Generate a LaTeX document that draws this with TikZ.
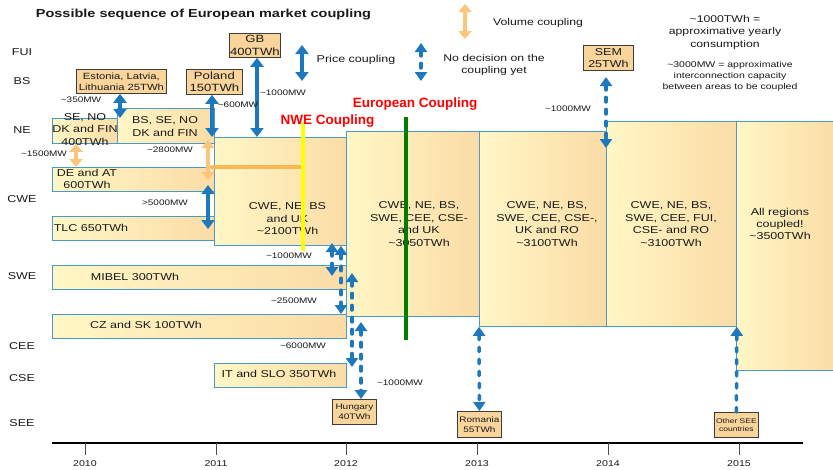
\documentclass[tikz,border=0pt]{standalone}
\usepackage{fontspec}
\setmainfont[FakeStretch=1.25]{Liberation Sans}
\newfontfamily\plainsans{Liberation Sans}
\usetikzlibrary{arrows.meta,calc}

\definecolor{regblue}{RGB}{78,152,200}
\definecolor{palel}{RGB}{255,247,198}
\definecolor{paler}{RGB}{251,220,166}
\definecolor{cblue}{RGB}{30,120,190}
\definecolor{volor}{RGB}{252,198,122}
\definecolor{tanfill}{RGB}{249,213,155}
\definecolor{tanline}{RGB}{60,60,60}
\definecolor{linkor}{RGB}{248,184,84}
\definecolor{nweyel}{RGB}{255,255,0}
\definecolor{eugreen}{RGB}{0,125,0}
\definecolor{ink}{RGB}{25,25,25}

\begin{document}
\begin{tikzpicture}[x=1pt,y=-1pt,
  every node/.style={text=ink},
  region/.style={draw=regblue, line width=0.8pt, left color=palel, right color=paler,
                 anchor=north west, inner sep=0pt},
  regtext/.style={font=\fontsize{10}{12.5}\selectfont, align=center, inner sep=0pt},
  tanbox/.style={draw=tanline, fill=tanfill, line width=0.8pt, inner sep=0pt,
                 align=center, anchor=north west},
  rowlab/.style={font=\fontsize{10}{12}\selectfont, inner sep=0pt},
  mwlab/.style={font=\fontsize{8}{10}\selectfont, inner sep=0pt},
  yearlab/.style={font=\fontsize{8.5}{10}\selectfont, inner sep=0pt},
  redlab/.style={font=\plainsans\bfseries\fontsize{13.5}{16}\selectfont, text=red, inner sep=0pt},
  price/.style={cblue, line width=4.5pt,
                {Triangle[width=13pt,length=9pt]}-{Triangle[width=13pt,length=9pt]}},
  undecided/.style={cblue, line width=3.5pt, dash pattern=on 4.5pt off 7.5pt, line cap=round,
                {Triangle[width=12pt,length=9pt]}-{Triangle[width=12pt,length=9pt]}},
  undecidedup/.style={cblue, line width=3.5pt, dash pattern=on 4.5pt off 7.5pt, line cap=round,
                -{Triangle[width=12pt,length=9pt]}},
  volume/.style={volor, line width=4.5pt,
                {Triangle[width=13pt,length=8pt]}-{Triangle[width=13pt,length=8pt]}}
]
\useasboundingbox (0,0) rectangle (833,469);

% ---------- title ----------
\node[font=\bfseries\fontsize{11.6}{14}\selectfont, inner sep=0pt] (title) at (203.5,15)
  {Possible sequence of European market coupling};

% ---------- row labels ----------
\node[rowlab] (rFUI) at (22,52)  {FUI};
\node[rowlab] (rBS)  at (22,81)  {BS};
\node[rowlab] (rNE)  at (22,130) {NE};
\node[rowlab] (rCWE) at (22,199) {CWE};
\node[rowlab] (rSWE) at (22,276) {SWE};
\node[rowlab] (rCEE) at (22,346) {CEE};
\node[rowlab] (rCSE) at (22,378) {CSE};
\node[rowlab] (rSEE) at (22,423) {SEE};

% ---------- regional markets ----------
\node[region, minimum width=65pt,  minimum height=25pt]  (senofin) at (52,118)  {};
\node[region, minimum width=97pt,  minimum height=35pt]  (bsseno)  at (117,108) {};
\node[region, minimum width=162pt, minimum height=24pt]  (deat)    at (52,167)  {};
\node[region, minimum width=162pt, minimum height=24pt]  (tlc)     at (52,216)  {};
\node[region, minimum width=294pt, minimum height=24pt]  (mibel)   at (52,265)  {};
\node[region, minimum width=294pt, minimum height=24pt]  (czsk)    at (52,314)  {};
\node[region, minimum width=132pt, minimum height=24pt]  (itslo)   at (214,363) {};
\node[region, minimum width=132pt, minimum height=108pt] (nwebox)  at (214,137) {};
\node[region, minimum width=133pt, minimum height=185pt] (eua)     at (346,131) {};
\node[region, minimum width=127pt, minimum height=195pt] (eub)     at (479,131) {};
\node[region, minimum width=130pt, minimum height=205pt] (euc)     at (606,121) {};
\node[region, minimum width=100pt, minimum height=249pt] (eud)     at (736,121) {};

\node[regtext] (senofin-t) at (85,129.5)  {SE, NO\\DK and FIN\\400TWh};
\node[regtext] (bsseno-t)  at (165,126.5) {BS, SE, NO\\DK and FIN};
\node[regtext] (deat-t)    at (87,179)    {DE and AT\\600TWh};
\node[regtext] (tlc-t)     at (91,228)    {TLC 650TWh};
\node[regtext] (mibel-t)   at (135,277)   {MIBEL 300TWh};
\node[regtext] (czsk-t)    at (146,325)   {CZ and SK 100TWh};
\node[regtext] (itslo-t)   at (279,374)   {IT and SLO 350TWh};
\node[regtext] (nwebox-t)  at (287.5,219) {CWE, NE, BS\\and UK\\\textasciitilde2100TWh};
\node[regtext] (eua-t)     at (419,224)   {CWE, NE, BS,\\SWE, CEE, CSE-\\and UK\\\textasciitilde3050TWh};
\node[regtext] (eub-t)     at (547,224)   {CWE, NE, BS,\\SWE, CEE, CSE-,\\UK and RO\\\textasciitilde3100TWh};
\node[regtext] (euc-t)     at (671,224)   {CWE, NE, BS,\\SWE, CEE, FUI,\\CSE- and RO\\\textasciitilde3100TWh};
\node[regtext, font=\fontsize{10}{12}\selectfont] (eud-t) at (780,224)
  {All regions\\coupled!\\\textasciitilde3500TWh};

% ---------- markets still to join ----------
\node[tanbox, minimum width=51pt, minimum height=24pt, font=\fontsize{10.5}{13}\selectfont]
  (gb) at (229,33) {GB\\400TWh};
\node[tanbox, minimum width=90pt, minimum height=24pt, font=\fontsize{9}{11}\selectfont]
  (estonia) at (76,69) {Estonia, Latvia,\\Lithuania 25TWh};
\node[tanbox, minimum width=56pt, minimum height=25pt, font=\fontsize{10.5}{12.5}\selectfont]
  (poland) at (186,69) {Poland\\150TWh};
\node[tanbox, minimum width=50pt, minimum height=25pt, font=\fontsize{10}{11.5}\selectfont]
  (sem) at (583,45) {SEM\\25TWh};
\node[tanbox, minimum width=44pt, minimum height=25pt, font=\fontsize{8}{9.5}\selectfont]
  (hungary) at (332,399) {Hungary\\40TWh};
\node[tanbox, minimum width=44pt, minimum height=26pt, font=\fontsize{8}{9.5}\selectfont]
  (romania) at (457,411) {Romania\\55TWh};
\node[tanbox, minimum width=44pt, minimum height=25pt, font=\fontsize{6.8}{8.5}\selectfont]
  (othersee) at (714,412) {Other SEE\\countries};

% ---------- coupling milestones ----------
\coordinate (linkstart) at (212,167);
\coordinate (nwetop) at (303,123);
\coordinate (nwebot) at (303,251);
\coordinate (eutop) at (406,117);
\coordinate (eubot) at (406,340);
\draw[linkor, line width=4pt, line cap=round] (linkstart) -- (linkstart -| nwetop);
\draw[nweyel, line width=4pt] (nwetop) -- (nwebot);
\draw[eugreen, line width=4pt] (eutop) -- (eubot);
\node[redlab] (nwelab) at (327.5,121) {NWE Coupling};
\node[redlab] (eulab)  at (415,104)   {European Coupling};

% ---------- interconnections ----------
\coordinate (x350)  at (120,0);
\coordinate (x600)  at (212,0);
\coordinate (xgb)   at (257,0);
\coordinate (x1500) at (76,0);
\coordinate (x2500) at (341,0);
\coordinate (xhu)   at (361,0);
\coordinate (v2800a) at (208,140);
\coordinate (v2800b) at (208,180);
\coordinate (p5000a) at (208,185);
\coordinate (p5000b) at (208,229);
\coordinate (semtip) at (606,77);
\coordinate (semlow) at (606,148);
\coordinate (swea) at (332,243);
\coordinate (sweb) at (332,276);
\coordinate (csea) at (352,273);
\coordinate (cseb) at (352,367);
\coordinate (hutop) at (361,322);

\draw[price] (estonia.south -| x350) -- (senofin.north -| x350);
\draw[price] (poland.south -| x600) -- (nwebox.north -| x600);
\draw[price] (gb.south -| xgb) -- (nwebox.north -| xgb);
\draw[price] (p5000a) -- (p5000b);
\draw[volume] (senofin.south -| x1500) -- (deat.north -| x1500);
\draw[volume] (v2800a) -- (v2800b);
\draw[undecided] (semtip) -- (semlow);
\draw[undecided] (swea) -- (sweb);
\draw[undecided] (nwebox.south -| x2500) -- (czsk.north -| x2500);
\draw[undecided] (csea) -- (cseb);
\draw[undecided] (hutop) -- (hungary.north -| xhu);
\draw[undecided] (eub.south west) -- (romania.north);
\draw[undecidedup] (othersee.north) -- (euc.south east);

\node[mwlab] (m350)  at (81,100)  {\textasciitilde350MW};
\node[mwlab] (m600)  at (238,105) {\textasciitilde600MW};
\node[mwlab] (mgb)   at (283,93)  {\textasciitilde1000MW};
\node[mwlab] (m1500) at (44,154)  {\textasciitilde1500MW};
\node[mwlab] (m2800) at (170,150) {\textasciitilde2800MW};
\node[mwlab] (m5000) at (165,203) {>5000MW};
\node[mwlab] (mswe)  at (289,256) {\textasciitilde1000MW};
\node[mwlab] (m2500) at (294,301) {\textasciitilde2500MW};
\node[mwlab] (m6000) at (303,346) {\textasciitilde6000MW};
\node[mwlab] (mhu)   at (400,383) {\textasciitilde1000MW};
\node[mwlab] (msem)  at (568,109) {\textasciitilde1000MW};

% ---------- legend ----------
\coordinate (lpa) at (302,45);
\coordinate (lpb) at (302,81);
\coordinate (lva) at (465,4);
\coordinate (lvb) at (465,39);
\coordinate (lna) at (421,43);
\coordinate (lnb) at (421,81);
\draw[price] (lpa) -- (lpb);
\draw[volume] (lva) -- (lvb);
\draw[undecided] (lna) -- (lnb);
\node[font=\fontsize{10}{12}\selectfont, inner sep=0pt] (lp) at (356,60) {Price coupling};
\node[font=\fontsize{9.8}{12}\selectfont, inner sep=0pt] (lv) at (538,23) {Volume coupling};
\node[font=\fontsize{9.8}{12}\selectfont, inner sep=0pt, align=center] (ln) at (494,65)
  {No decision on the\\coupling yet};
\node[font=\fontsize{9.8}{12.5}\selectfont, inner sep=0pt, align=center] (ltwh) at (725,32)
  {\textasciitilde1000TWh =\\approximative yearly\\consumption};
\node[font=\fontsize{8.4}{11}\selectfont, inner sep=0pt, align=center] (lmw) at (730,76)
  {\textasciitilde3000MW = approximative\\interconnection capacity\\between areas to be coupled};

% ---------- time axis ----------
\draw[line width=2pt] (52,443) -- (803,443);
\foreach \yr/\xx in {2010/85,2011/216,2012/346,2013/477,2014/608,2015/739}{
  \draw[line width=0.8pt, black!70] (\xx,443) -- (\xx,455);
  \node[yearlab] (y\yr) at (\xx,464) {\yr};
}
\end{tikzpicture}
\end{document}
